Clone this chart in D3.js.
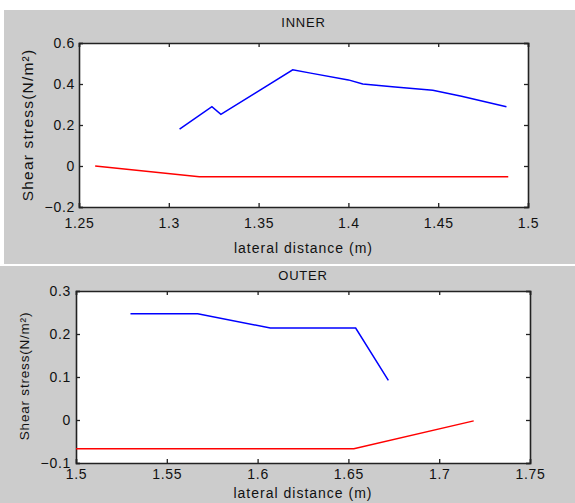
<!DOCTYPE html>
<html>
<head>
<meta charset="utf-8">
<script src="https://cdn.jsdelivr.net/npm/d3@7"></script>
<style>
  body { margin: 0; background: #fff; }
  text { font-family: "Liberation Sans", Arial, sans-serif; fill: #111; }
</style>
</head>
<body>
<div id="chart"></div>
<script>
// Valeurs
const innerBlueX = [1.306, 1.324, 1.329, 1.369, 1.379, 1.400, 1.408, 1.426, 1.447, 1.463, 1.488];
const innerBlueY = [0.180, 0.289, 0.252, 0.469, 0.453, 0.420, 0.400, 0.385, 0.369, 0.340, 0.289];
const innerRedX = [1.259, 1.317, 1.489];
const innerRedY = [0.000, -0.052, -0.052];

const outerBlueX = [1.530, 1.567, 1.607, 1.654, 1.672];
const outerBlueY = [0.247, 0.247, 0.214, 0.214, 0.092];
const outerRedX = [1.500, 1.653, 1.719];
const outerRedY = [-0.067, -0.067, -0.002];

const innerXTicks = [1.25, 1.3, 1.35, 1.4, 1.45, 1.5];
const innerYTicks = [-0.2, 0, 0.2, 0.4, 0.6];
const outerXTicks = [1.5, 1.55, 1.6, 1.65, 1.7, 1.75];
const outerYTicks = [-0.1, 0, 0.1, 0.2, 0.3];

const width = 575, height = 503;
const svg = d3.select("#chart").append("svg")
    .attr("width", width)
    .attr("height", height);

// Fonds gris des deux figures
svg.append("rect").attr("x", 4).attr("y", 10).attr("width", width - 4).attr("height", 254).attr("fill", "#cccccc");
svg.append("rect").attr("x", 0).attr("y", 266).attr("width", width).attr("height", height - 266).attr("fill", "#cccccc");

function drawPanel(p) {
    const x = d3.scaleLinear().domain(p.xDomain).range([p.left, p.right]);
    const y = d3.scaleLinear().domain(p.yDomain).range([p.bottom, p.top]);
    const g = svg.append("g");

    g.append("rect")
        .attr("x", p.left).attr("y", p.top)
        .attr("width", p.right - p.left).attr("height", p.bottom - p.top)
        .attr("fill", "#fff");

    const fmt = d => d3.format("")(+d.toFixed(2));

    // Axes avec graduations vers l'intérieur (style boîte)
    g.append("g").attr("transform", `translate(0,${p.bottom})`)
        .call(d3.axisBottom(x).tickValues(p.xTicks).tickSize(-4).tickPadding(p.xPad).tickFormat(fmt));
    g.append("g").attr("transform", `translate(0,${p.top})`)
        .call(d3.axisTop(x).tickValues(p.xTicks).tickSize(-4).tickFormat(""));
    g.append("g").attr("transform", `translate(${p.left},0)`)
        .call(d3.axisLeft(y).tickValues(p.yTicks).tickSize(-4).tickPadding(p.yPad).tickFormat(fmt));
    g.append("g").attr("transform", `translate(${p.right},0)`)
        .call(d3.axisRight(y).tickValues(p.yTicks).tickSize(-4).tickFormat(""));

    g.selectAll(".domain").attr("stroke", "#222").attr("stroke-width", 1.6);
    g.selectAll(".tick line").attr("stroke", "#222").attr("stroke-width", 1.3);
    g.selectAll(".tick text")
        .style("font-size", "14px")
        .style("letter-spacing", "0.7px")
        .attr("fill", "#1a1a1a");

    const line = d3.line().x(d => x(d[0])).y(d => y(d[1]));
    p.series.forEach(s => {
        g.append("path")
            .datum(d3.zip(s.x, s.y))
            .attr("fill", "none")
            .attr("stroke", s.color)
            .attr("stroke-width", 1.5)
            .attr("d", line);
    });

    const cx = (p.left + p.right) / 2;
    g.append("text").attr("x", cx).attr("y", p.titleY)
        .attr("text-anchor", "middle")
        .style("font-size", "13px").style("letter-spacing", "0.8px")
        .text(p.title);
    g.append("text").attr("x", cx).attr("y", p.xLabelY)
        .attr("text-anchor", "middle")
        .style("font-size", "14px").style("letter-spacing", "1px")
        .text("lateral distance (m)");
    g.append("text")
        .attr("transform", `translate(${p.yLabelX},${p.yLabelMid}) rotate(-90)`)
        .attr("text-anchor", "middle")
        .style("font-size", p.yLabelSize).style("letter-spacing", p.yLabelSpacing)
        .text("Shear stress(N/m²)");
}

drawPanel({
    title: "INNER", titleY: 27, xLabelY: 253,
    yLabelX: 33, yLabelMid: 125, yLabelSize: "15.5px", yLabelSpacing: "1.2px",
    xPad: 11, yPad: 4,
    left: 79, right: 528, top: 43, bottom: 207,
    xDomain: [1.25, 1.5], yDomain: [-0.2, 0.6],
    xTicks: innerXTicks, yTicks: innerYTicks,
    series: [
        { x: innerBlueX, y: innerBlueY, color: "#0000ff" },
        { x: innerRedX, y: innerRedY, color: "#ff0000" }
    ]
});

drawPanel({
    title: "OUTER", titleY: 280, xLabelY: 498,
    yLabelX: 29, yLabelMid: 376, yLabelSize: "13.5px", yLabelSpacing: "0.8px",
    xPad: 6, yPad: 5,
    left: 76, right: 530, top: 291, bottom: 463,
    xDomain: [1.5, 1.75], yDomain: [-0.1, 0.3],
    xTicks: outerXTicks, yTicks: outerYTicks,
    series: [
        { x: outerBlueX, y: outerBlueY, color: "#0000ff" },
        { x: outerRedX, y: outerRedY, color: "#ff0000" }
    ]
});
</script>
</body>
</html>
